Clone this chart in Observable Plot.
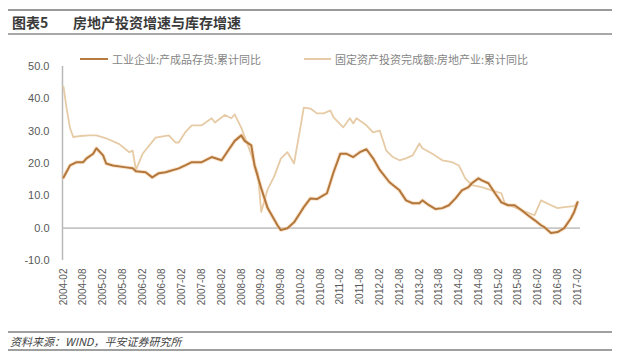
<!DOCTYPE html>
<html>
<head>
<meta charset="utf-8">
<script src="https://cdn.jsdelivr.net/npm/d3@7"></script>
<script src="https://cdn.jsdelivr.net/npm/@observablehq/plot@0.6"></script>
<style>
  html, body { margin: 0; padding: 0; background: #fff; }
  #wrap { position: relative; width: 620px; height: 353px; overflow: hidden; font-family: "Noto Sans CJK SC", "Liberation Sans", sans-serif; }
  #title { position: absolute; left: 8px; top: 9px; width: 604px; height: 22px; border-top: 2px solid #9a9a9a; border-bottom: 2px solid #a8a8a8; }
  #title span { position: absolute; top: 1px; font-size: 14px; font-weight: bold; color: #3a3a3a; line-height: 20px; }
  #chart { position: absolute; left: 0; top: 40px; }
  #legend { position: absolute; top: 51px; left: 0; width: 620px; height: 16px; font-size: 11px; color: #858585; }
  #legend .sw { position: absolute; top: 7px; height: 0; }
  #legend .tx { position: absolute; top: 0; line-height: 16px; white-space: nowrap; }
  #footer { position: absolute; left: 8px; top: 331px; width: 604px; height: 16px; border-top: 2px solid #a0a0a0; border-bottom: 2px solid #a0a0a0; }
  #footer span { position: absolute; left: 2px; top: 0px; font-size: 11px; font-style: italic; color: #444; line-height: 16px; }
</style>
</head>
<body>
<div id="wrap">
  <div id="title"><span style="left:4px">图表5</span><span style="left:65px">房地产投资增速与库存增速</span></div>
  <div id="chart"></div>
  <div id="legend">
    <div class="sw" style="left:80px;width:28px;border-top:2.5px solid #b97a3e"></div>
    <div class="tx" style="left:112px">工业企业:产成品存货:累计同比</div>
    <div class="sw" style="left:304px;width:27px;border-top:2px solid #e6cba6"></div>
    <div class="tx" style="left:335px">固定资产投资完成额:房地产业:累计同比</div>
  </div>
  <div id="footer"><span>资料来源：WIND，平安证券研究所</span></div>
</div>
<script>
const seriesNames = ["工业企业:产成品存货:累计同比", "固定资产投资完成额:房地产业:累计同比"];

const inventoryDates = ["2004-02","2004-04","2004-06","2004-08","2004-09","2004-11","2004-12","2005-02","2005-03","2005-05","2005-09","2005-11","2005-12","2006-03","2006-05","2006-07","2006-09","2007-01","2007-03","2007-05","2007-08","2007-11","2008-02","2008-04","2008-06","2008-08","2008-09","2008-11","2008-12","2009-02","2009-04","2009-07","2009-08","2009-10","2009-12","2010-02","2010-03","2010-05","2010-07","2010-09","2010-10","2010-12","2011-02","2011-04","2011-06","2011-08","2011-10","2011-12","2012-02","2012-05","2012-08","2012-10","2012-12","2013-02","2013-03","2013-05","2013-07","2013-09","2013-11","2014-01","2014-03","2014-05","2014-06","2014-08","2014-09","2014-11","2015-01","2015-03","2015-05","2015-07","2015-09","2015-11","2016-01","2016-03","2016-04","2016-06","2016-08","2016-10","2016-12","2017-01","2017-02"];
const inventoryValues = [15.7,19.4,20.4,20.4,21.6,23,24.7,22.5,20,19.4,18.8,18.5,17.6,17.3,15.7,17,17.3,18.5,19.4,20.4,20.4,22,21,24,27,28.7,27,25.6,19.4,12.3,6.2,0.9,-0.6,0,1.8,5,6.5,9.2,9,10.2,10.8,17.3,23,23,22,23.5,24.4,21.6,18,14.2,11.7,8.6,7.7,7.7,8.6,7.1,5.9,6.2,7.1,9.2,11.7,12.7,13.9,15.4,14.8,13.9,10.8,8,7.1,7.1,5.6,4,2.5,0.9,0.3,-1.5,-1.2,0,3,5,8];

const investDates = ["2004-02","2004-03","2004-04","2004-05","2004-07","2004-10","2004-12","2005-03","2005-07","2005-10","2005-11","2005-12","2006-02","2006-06","2006-10","2006-12","2007-01","2007-03","2007-05","2007-08","2007-11","2007-12","2008-03","2008-05","2008-06","2008-08","2008-10","2009-01","2009-02","2009-04","2009-06","2009-08","2009-10","2009-12","2010-02","2010-03","2010-05","2010-07","2010-09","2010-11","2010-12","2011-03","2011-05","2011-06","2011-07","2011-10","2011-12","2012-02","2012-04","2012-06","2012-08","2012-10","2012-12","2013-02","2013-03","2013-06","2013-09","2013-12","2014-02","2014-04","2014-06","2014-09","2014-12","2015-03","2015-04","2015-09","2016-01","2016-03","2016-06","2016-08","2016-10","2017-01","2017-02"];
const investValues = [43.8,37,31,28.2,28.5,28.7,28.7,27.8,26,23.5,24,18,23,28,28.7,26.5,26.5,29.6,31.8,31.8,34,32.7,35,34,35.2,31,25.6,17,5,12,16,21.5,23.5,20,31.8,37.3,37,35.5,35.5,36.4,34.3,31.2,34,32.4,34,31.8,29.6,30.2,24,22,21,21.6,22.5,26.2,24.7,23,21,20.4,19.4,15.4,13.3,12.7,11.7,10.8,7.7,5.6,4,8.6,7.1,6.2,6.5,6.8,8];

const yTicks = [-10, 0, 10, 20, 30, 40, 50];
const xTickLabels = ["2004-02","2004-08","2005-02","2005-08","2006-02","2006-08","2007-02","2007-08","2008-02","2008-08","2009-02","2009-08","2010-02","2010-08","2011-02","2011-08","2012-02","2012-08","2013-02","2013-08","2014-02","2014-08","2015-02","2015-08","2016-02","2016-08","2017-02"];

const parse = d3.utcParse("%Y-%m");
const inventory = inventoryDates.map((d, i) => ({date: parse(d), value: inventoryValues[i]}));
const invest = investDates.map((d, i) => ({date: parse(d), value: investValues[i]}));
const xTicks = xTickLabels.map(parse);

const chart = Plot.plot({
  width: 620,
  height: 280,
  marginTop: 26,
  marginBottom: 60,
  marginLeft: 63,
  marginRight: 43,
  style: {fontFamily: "'Liberation Sans', Arial, sans-serif", background: "transparent"},
  x: {type: "utc", domain: [parse("2004-02"), parse("2017-02")], label: null},
  y: {domain: [-10, 50], label: null},
  marks: [
    Plot.ruleX([parse("2004-02")], {stroke: "#b8b8b8", strokeWidth: 1.5, dx: -1}),
    Plot.ruleY([0], {stroke: "#c6c6c6", strokeWidth: 1.8, x1: parse("2004-02"), x2: parse("2017-03")}),
    Plot.axisY({ticks: yTicks, tickFormat: d => d.toFixed(1), tickSize: 0, tickPadding: 14, fontSize: 11, fill: "#595959", label: null}),
    Plot.axisX({ticks: xTicks, tickFormat: d3.utcFormat("%Y-%m"), tickRotate: -90, tickSize: 0, tickPadding: 8, fontSize: 10, fill: "#595959", label: null}),
    Plot.lineY(invest, {x: "date", y: "value", stroke: "#e6cba6", strokeWidth: 1.8, curve: "linear"}),
    Plot.lineY(inventory, {x: "date", y: "value", stroke: "#f3c89a", strokeWidth: 4, strokeOpacity: 0.45}),
    Plot.lineY(inventory, {x: "date", y: "value", stroke: "#b3773c", strokeWidth: 2})
  ]
});
document.getElementById("chart").appendChild(chart);
</script>
</body>
</html>
